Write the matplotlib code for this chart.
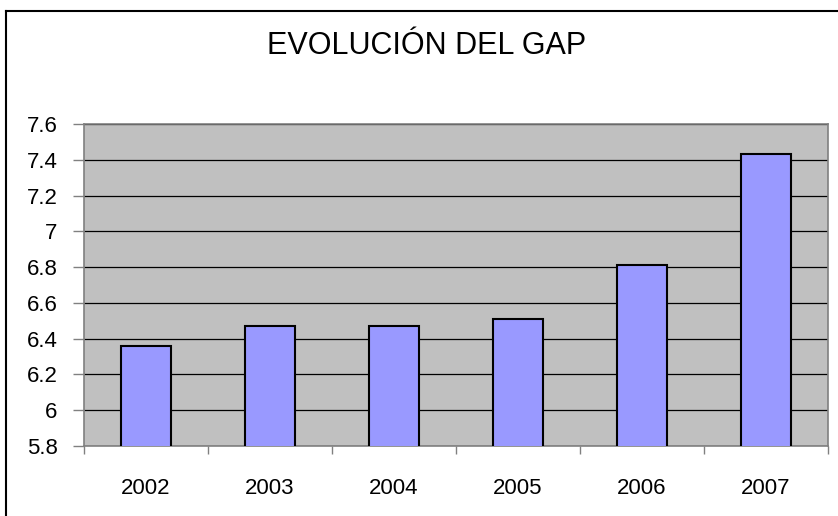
import numpy as np
import matplotlib
matplotlib.use("Agg")
import matplotlib.pyplot as plt
from matplotlib.lines import Line2D

years = ["2002", "2003", "2004", "2005", "2006", "2007"]
gap = [6.36, 6.47, 6.47, 6.51, 6.81, 7.43]
y_ticks = [5.8, 6.0, 6.2, 6.4, 6.6, 6.8, 7.0, 7.2, 7.4, 7.6]
y_labels = ["5.8", "6", "6.2", "6.4", "6.6", "6.8", "7", "7.2", "7.4", "7.6"]

plt.rcParams["font.family"] = ["Liberation Sans", "DejaVu Sans"]

fig = plt.figure(figsize=(8.38, 5.16), dpi=100)
ax = fig.add_axes([84 / 838, 70 / 516, 744 / 838, 322 / 516])
ax.set_facecolor("#C0C0C0")

x = np.arange(len(years))
ax.bar(x, gap, width=0.4, bottom=0, color="#9999FF", edgecolor="black",
       linewidth=1.5, zorder=3)

ax.set_xlim(-0.5, len(years) - 0.5)
ax.set_ylim(5.8, 7.6)
ax.set_yticks(y_ticks)
ax.set_yticklabels(y_labels, fontsize=16)
ax.grid(axis="y", color="black", linewidth=0.9, zorder=1)
ax.set_axisbelow(True)

# category labels at centres, tick marks at boundaries
ax.set_xticks(np.arange(len(years) + 1) - 0.5)
ax.set_xticklabels([])
ax.set_xticks(x, minor=True)
ax.set_xticklabels(years, minor=True, fontsize=16)
ax.tick_params(axis="x", which="minor", length=0, pad=23)
ax.tick_params(axis="x", which="major", length=6, color="#808080", width=1)
ax.tick_params(axis="y", length=8, color="#808080", width=1, pad=11)

for s in ax.spines.values():
    s.set_color("#808080")
    s.set_linewidth(1.2)

fig.text(427 / 838, 1 - 46 / 516, "EVOLUCIÓN DEL GAP", ha="center", va="center",
         fontsize=22)

# outer chart border (left and top visible)
fig.add_artist(Line2D([6 / 838, 6 / 838], [0, 1 - 11 / 516], color="black",
                      linewidth=1.5, transform=fig.transFigure))
fig.add_artist(Line2D([6 / 838, 1], [1 - 11 / 516, 1 - 11 / 516], color="black",
                      linewidth=1.5, transform=fig.transFigure))

fig.savefig("out.png", dpi=100)
